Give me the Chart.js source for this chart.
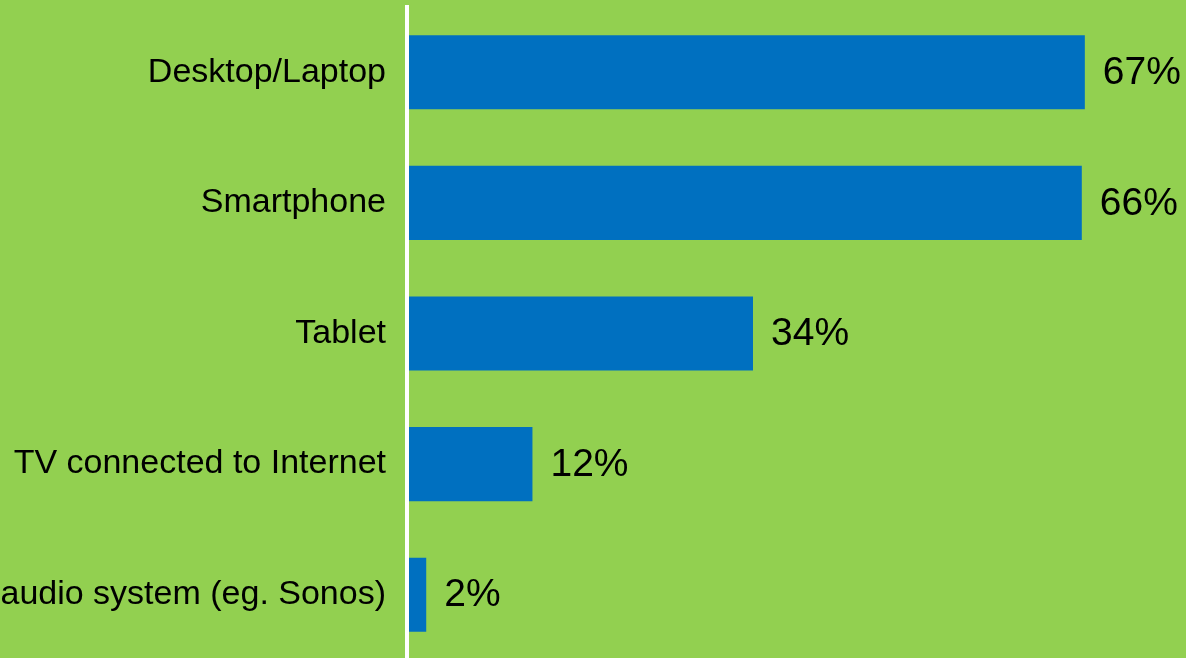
<!DOCTYPE html>
<html>
<head>
<meta charset="utf-8">
<script src="https://cdn.jsdelivr.net/npm/chart.js@4"></script>
<style>
  html, body { margin: 0; padding: 0; background: #92d050; overflow: hidden; }
  #wrap { width: 1186px; height: 660px; position: relative; }
</style>
</head>
<body>
<div id="wrap"><canvas id="grafico"></canvas></div>
<script>
const categorias = [
    'Desktop/Laptop',
    'Smartphone',
    'Tablet',
    'TV connected to Internet',
    'audio system (eg. Sonos)'
];
const valores = [67, 66.7, 34.2, 12.4, 1.9];
const rotulos = ['67%', '66%', '34%', '12%', '2%'];

const fonte = '"Liberation Sans", Arial, sans-serif';

// escreve o valor (%) ao lado de cada barra
const rotulosValor = {
    id: 'rotulosValor',
    afterDatasetsDraw(chart) {
        const ctx = chart.ctx;
        const meta = chart.getDatasetMeta(0);
        ctx.save();
        ctx.font = '39px ' + fonte;
        ctx.fillStyle = '#000';
        ctx.textAlign = 'left';
        ctx.textBaseline = 'middle';
        meta.data.forEach((bar, i) => {
            ctx.fillText(rotulos[i], bar.x + 18, bar.y + 1);
        });
        ctx.restore();
    }
};

new Chart(document.getElementById('grafico'), {
    type: 'bar',
    data: {
        labels: categorias,
        datasets: [{
            data: valores,
            backgroundColor: '#0070c0',
            borderWidth: 0,
            categoryPercentage: 1,
            barPercentage: 0.567
        }]
    },
    options: {
        indexAxis: 'y',
        responsive: true,
        maintainAspectRatio: false,
        animation: false,
        layout: { padding: { top: 7, right: 0, bottom: 0, left: 0 } },
        plugins: {
            legend: { display: false },
            tooltip: { enabled: false }
        },
        scales: {
            x: {
                display: false,
                min: 0,
                max: 77
            },
            y: {
                afterFit: (scale) => {
                    scale.width = 407;
                    scale.paddingTop = 0;
                    scale.paddingBottom = 0;
                },
                grid: { display: true, color: 'transparent', drawTicks: false },
                border: { display: true, color: '#ffffff', width: 4, z: 1 },
                ticks: {
                    color: '#000',
                    padding: 21,
                    font: { family: fonte, size: 34 }
                }
            }
        }
    },
    plugins: [rotulosValor]
});
</script>
</body>
</html>
